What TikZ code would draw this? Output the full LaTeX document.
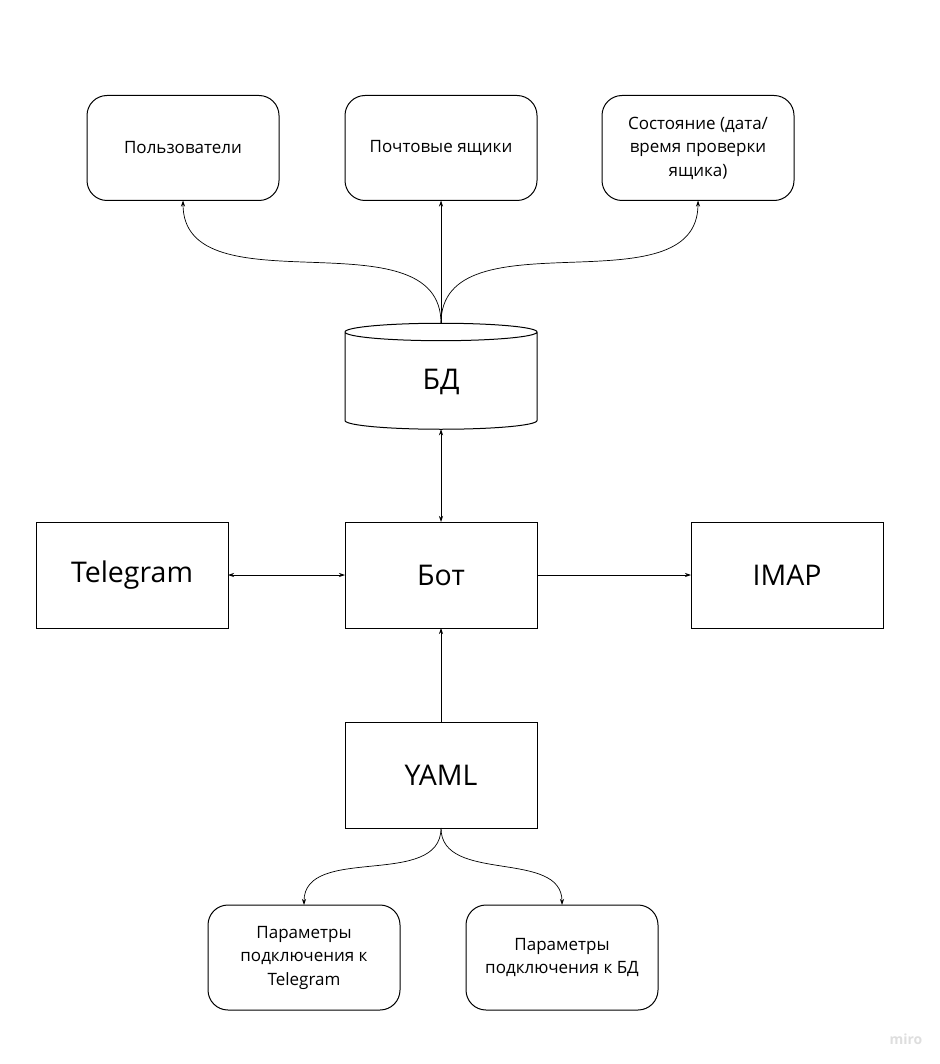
\documentclass[tikz,border=0pt]{standalone}
\usepackage{fontspec}
\setmainfont{Open Sans}
\usetikzlibrary{shapes.geometric,arrows.meta}
\tikzset{
  box/.style={draw, line width=1pt, minimum width=192pt, minimum height=106pt,
    font=\fontsize{28.5}{33}\selectfont},
  rbox/.style={draw, line width=1pt, rounded corners=20pt, minimum width=192pt,
    minimum height=105pt, align=center, font=\fontsize{17}{23.5}\selectfont},
  db/.style={draw, line width=1pt, cylinder, shape border rotate=90, aspect=0.4,
    minimum width=192pt, minimum height=106pt, font=\fontsize{28.5}{33}\selectfont},
  >={Stealth[length=6pt,width=4pt]},
}
\begin{document}
\begin{tikzpicture}[x=1pt, y=-1pt, every node/.style={outer sep=0pt}, line width=0.7pt]
  \useasboundingbox (0,0) rectangle (939,1064);
  % tables
  \node[rbox] (users) at (183, 148) {Пользователи};
  \node[rbox] (boxes) at (441, 148) {Почтовые ящики};
  \node[rbox] (state) at (698, 148) {Состояние (дата/\\время проверки\\ящика)};
  \node[db] (bd) at (441, 382) {БД};
  % middle row
  \node[box] (tg) at (132, 575) {Telegram};
  \node[box] (bot) at (441, 575) {Бот};
  \node[box] (imap) at (787, 575) {IMAP};
  \node[box] (yaml) at (441, 775) {YAML};
  % config
  \node[rbox] (tgpar) at (304, 957.5) {Параметры\\подключения к\\Telegram};
  \node[rbox] (bdpar) at (562, 957.5) {Параметры\\подключения к БД};
  \node[text=black!13, font=\fontsize{14}{16}\selectfont\bfseries] (miro) at (906, 1039) {miro};

  \draw[->] (bd.north) to[out=90, in=-90] (users.south);
  \draw[->] (bd.north) -- (boxes.south);
  \draw[->] (bd.north) to[out=90, in=-90] (state.south);
  \draw[<->] (bd.south) -- (bot.north);
  \draw[<->] (tg) -- (bot);
  \draw[->] (bot) -- (imap);
  \draw[->] (yaml) -- (bot);
  \draw[->] (yaml.south) to[out=-90, in=90] (tgpar.north);
  \draw[->] (yaml.south) to[out=-90, in=90] (bdpar.north);
\end{tikzpicture}
\end{document}
